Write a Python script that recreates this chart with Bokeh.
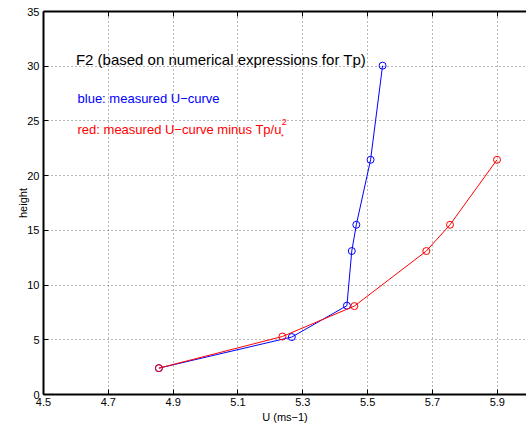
from bokeh.plotting import figure
from bokeh.models import FixedTicker, LinearAxis, Range1d
from bokeh.core.properties import value
from bokeh.embed import file_html
from bokeh.resources import INLINE

# data
blue_u = [4.856, 5.266, 5.436, 5.451, 5.465, 5.509, 5.546]
blue_h = [2.41, 5.25, 8.12, 13.11, 15.51, 21.45, 30.05]
red_u = [4.856, 5.237, 5.459, 5.681, 5.754, 5.899]
red_h = [2.41, 5.30, 8.08, 13.11, 15.51, 21.45]

x_ticks = [4.5, 4.7, 4.9, 5.1, 5.3, 5.5, 5.7, 5.9]
y_ticks = [0, 5, 10, 15, 20, 25, 30, 35]

title_text = "F2 (based on numerical expressions for Tp)"
blue_text = "blue: measured U\u2212curve"
red_text = "red: measured U\u2212curve minus Tp/u"

FONT = "Liberation Sans"

p = figure(width=526, height=425, output_backend="svg", toolbar_location=None,
           x_range=Range1d(4.5, 5.99), y_range=Range1d(0, 35),
           min_border_left=43, min_border_right=0, min_border_top=11, min_border_bottom=31)
p.outline_line_color = None
p.background_fill_color = "white"
p.border_fill_color = "white"

for ax in (p.xaxis[0], p.yaxis[0]):
    ax.axis_line_width = 2
    ax.axis_line_color = "black"
    ax.major_tick_in = 5
    ax.major_tick_out = 0
    ax.major_tick_line_color = "black"
    ax.minor_tick_line_color = None
    ax.major_label_text_font = FONT
    ax.major_label_text_font_size = "11px"
    ax.major_label_text_color = "black"
    ax.axis_label_text_font = FONT
    ax.axis_label_text_font_size = "11px"
    ax.axis_label_text_font_style = "normal"
    ax.axis_label_text_color = "black"

p.xaxis[0].ticker = FixedTicker(ticks=x_ticks)
p.yaxis[0].ticker = FixedTicker(ticks=y_ticks)
p.xaxis[0].axis_label = "U (ms\u22121)"
p.yaxis[0].axis_label = "height"
p.xaxis[0].major_label_standoff = 3
p.xaxis[0].axis_label_standoff = 2
p.yaxis[0].major_label_standoff = 4
p.yaxis[0].axis_label_standoff = -5

top = LinearAxis(ticker=FixedTicker(ticks=x_ticks), major_label_text_font_size="0px",
                 major_label_text_color=None,
                 major_label_standoff=0, axis_line_width=2, axis_line_color="black",
                 major_tick_in=5, major_tick_out=0, minor_tick_line_color=None)
p.add_layout(top, "above")

p.xgrid.ticker = FixedTicker(ticks=x_ticks)
p.ygrid.ticker = FixedTicker(ticks=y_ticks)
for g in (p.xgrid[0], p.ygrid[0]):
    g.grid_line_color = "#6e6e6e"
    g.grid_line_dash = "1 3"
    g.grid_line_width = 1

p.line(blue_u, blue_h, line_color="#0000ff", line_width=1)
p.scatter(blue_u, blue_h, marker="circle", size=7, fill_color=None, line_color="#0000ff", line_width=1)
p.line(red_u, red_h, line_color="#ff0000", line_width=1)
p.scatter(red_u, red_h, marker="circle", size=7, fill_color=None, line_color="#ff0000", line_width=1)

p.text(x=[4.6], y=[30.65], text=[title_text], text_font=value(FONT), text_font_size="15px",
       text_color="black", text_baseline="middle", text_align="left")
p.text(x=[4.605], y=[27.03], text=[blue_text], text_font=value(FONT), text_font_size="13px",
       text_color="#0000ff", text_baseline="middle", text_align="left")
p.text(x=[4.605], y=[24.2], text=[red_text], text_font=value(FONT), text_font_size="13px",
       text_color="#ff0000", text_baseline="middle", text_align="left")
p.text(x=[5.235], y=[24.9], text=["2"], text_font=value(FONT), text_font_size="9px",
       text_color="#ff0000", text_baseline="middle", text_align="left")
p.text(x=[5.233], y=[23.6], text=["*"], text_font=value(FONT), text_font_size="7px",
       text_color="#ff0000", text_baseline="middle", text_align="left")

open("out.html", "w").write(file_html(p, INLINE))
